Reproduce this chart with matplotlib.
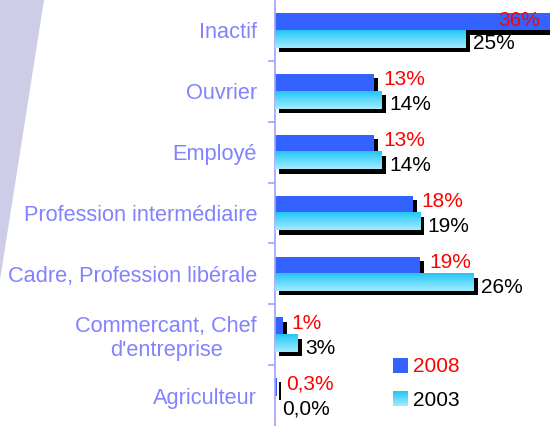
import numpy as np
import matplotlib
matplotlib.use("Agg")
import matplotlib.pyplot as plt
from matplotlib.patches import Polygon, Rectangle
from matplotlib.colors import LinearSegmentedColormap
import matplotlib.patheffects as pe

plt.rcParams['font.family'] = ['Liberation Sans', 'DejaVu Sans']

# categories, top to bottom
categories = ["Inactif", "Ouvrier", "Employé", "Profession intermédiaire",
              "Cadre, Profession libérale", "Commercant, Chef\nd'entreprise",
              "Agriculteur"]

# share of each category, in %
values_2008 = [36, 13, 13, 18, 19, 1, 0.3]
values_2003 = [25, 14, 14, 19, 26, 3, 0.0]

labels_2008 = ["36%", "13%", "13%", "18%", "19%", "1%", "0,3%"]
labels_2003 = ["25%", "14%", "14%", "19%", "26%", "3%", "0,0%"]

series_names = ["2008", "2003"]

# colours
blue = '#3362ff'
cyan_top = '#22c6f8'
cyan_bottom = '#a2ecff'
label_color = '#8282ff'
axis_color = '#a0a0ff'

W, H = 550, 426
fig = plt.figure(figsize=(W / 100, H / 100), dpi=100)

# lavender decoration in the top-left corner
deco = Polygon([(0, 1), (44 / W, 1), (0, 1 - 280 / H)], closed=True,
               transform=fig.transFigure, facecolor='#cdcde8', edgecolor='none', zorder=0)
fig.patches.append(deco)

ax = fig.add_axes([275 / W, 0, 275 / W, 1])
ax.patch.set_alpha(0)

grad = LinearSegmentedColormap.from_list('cy', [cyan_top, cyan_bottom])
gradient = np.linspace(0, 1, 64).reshape(-1, 1)

pos = np.arange(len(categories))
h = 0.285
xmax = 36.0
shadow = [pe.SimplePatchShadow(offset=(3, -3), shadow_rgbFace='black', alpha=1), pe.Normal()]

# 2008 bars (above the centre)
ax.barh(pos - h / 2, values_2008, height=h, color=blue, linewidth=0,
        path_effects=shadow, zorder=2)

# 2003 bars (below the centre) with a vertical cyan gradient
ax.barh(pos + h / 2, values_2003, height=h, color=cyan_bottom, linewidth=0,
        path_effects=shadow, zorder=3)
for p, v in zip(pos, values_2003):
    if v > 0:
        ax.imshow(gradient, cmap=grad, aspect='auto', extent=(0, v, p + h, p),
                  interpolation='bilinear', zorder=4)

# value labels
px = 0.72  # points per pixel
for p, v, lab in zip(pos, values_2008, labels_2008):
    if v >= xmax - 2:
        ax.annotate(lab, (xmax, p), xytext=(-10 * px, 4 * px), textcoords='offset points',
                    ha='right', va='baseline', color='red', fontsize=15,
                    annotation_clip=False, zorder=5)
    else:
        ax.annotate(lab, (v, p), xytext=(9 * px, 6 * px), textcoords='offset points',
                    ha='left', va='baseline', color='red', fontsize=15,
                    annotation_clip=False, zorder=5)
for p, v, lab in zip(pos, values_2003, labels_2003):
    ax.annotate(lab, (v, p), xytext=(7 * px, -19 * px), textcoords='offset points',
                ha='left', va='baseline', color='black', fontsize=15,
                annotation_clip=False, zorder=5)

ax.set_xlim(0, xmax)
ax.set_ylim(len(categories) - 0.5, -0.5)

# axis styling
for s in ['top', 'right', 'bottom']:
    ax.spines[s].set_visible(False)
ax.spines['left'].set_color(axis_color)
ax.spines['left'].set_linewidth(1.2)
ax.set_xticks([])
ax.set_yticks(pos)
ax.set_yticklabels(categories, fontsize=15.7, color=label_color, multialignment='center')
ax.tick_params(axis='y', which='major', length=0, pad=18 * px)
ax.set_yticks(pos[:-1] + 0.5, minor=True)
ax.tick_params(axis='y', which='minor', length=7 * px, width=1.2, color=axis_color)

# legend drawn by hand
lax = fig.add_axes([0, 0, 1, 1])
lax.set_xlim(0, W)
lax.set_ylim(H, 0)
lax.axis('off')
lax.patch.set_alpha(0)
lax.add_patch(Rectangle((393, 358), 15, 15, facecolor=blue, edgecolor='none'))
lax.imshow(gradient, cmap=grad, aspect='auto', extent=(393, 408, 406, 391),
           interpolation='bilinear')
lax.text(413, 372, series_names[0], color='red', fontsize=15, va='baseline')
lax.text(413, 406, series_names[1], color='black', fontsize=15, va='baseline')
lax.set_xlim(0, W)
lax.set_ylim(H, 0)

fig.savefig('out.png', dpi=100)
